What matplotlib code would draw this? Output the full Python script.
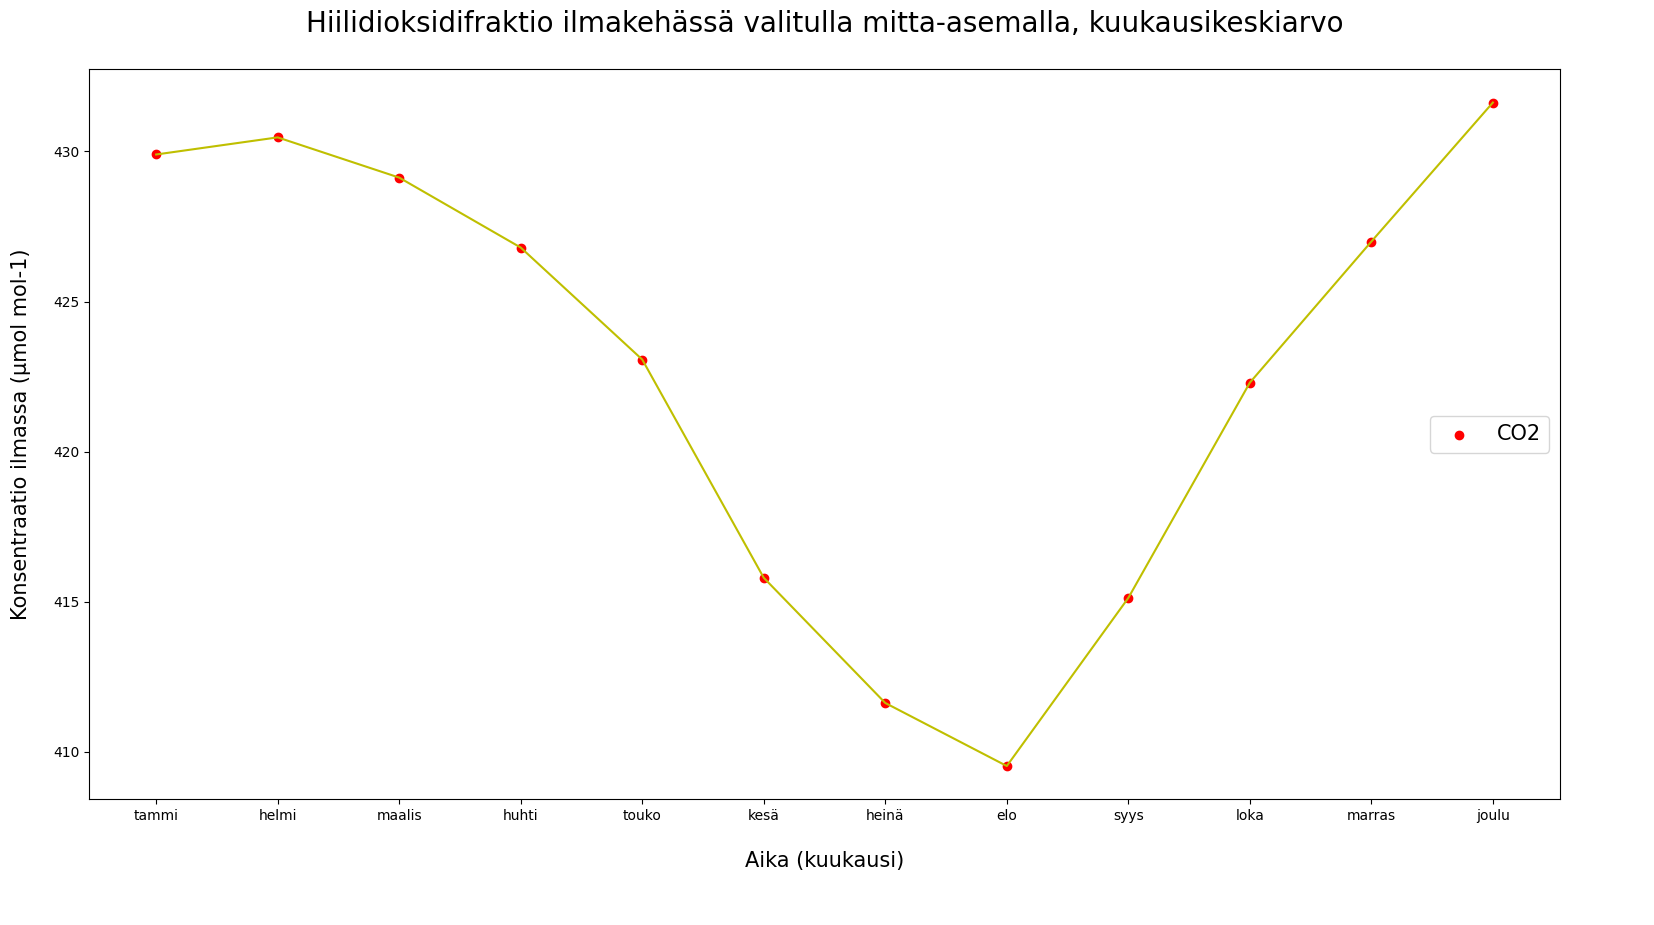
import numpy as np
import matplotlib.pyplot as plt

# Kuukausikeskiarvot (µmol mol-1)
kuukaudet = ["tammi", "helmi", "maalis", "huhti", "touko", "kesä",
             "heinä", "elo", "syys", "loka", "marras", "joulu"]
co2 = [429.9, 430.47, 429.13, 426.8, 423.07, 415.8,
       411.63, 409.53, 415.13, 422.3, 427.0, 431.63]

fig = plt.figure(figsize=(16.54, 9.25), dpi=100)
ax = fig.add_axes([0.054, 0.136, 0.889, 0.789])

ax.scatter(kuukaudet, co2, c="red", s=36, label="CO2")
ax.plot(kuukaudet, co2, color="y")

ax.set_title("Hiilidioksidifraktio ilmakehässä valitulla mitta-asemalla, kuukausikeskiarvo",
             fontsize=20, pad=27)
ax.set_xlabel("Aika (kuukausi)", fontsize=15, labelpad=20)
ax.set_ylabel("Konsentraatio ilmassa (µmol mol-1)", fontsize=15, labelpad=16)
ax.set_yticks([410, 415, 420, 425, 430])
ax.legend(loc="center right", fontsize=15)

plt.savefig("out.png")
